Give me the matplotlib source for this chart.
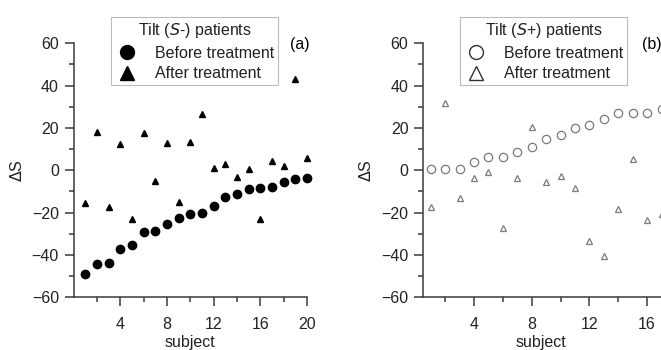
import numpy as np
import matplotlib
matplotlib.use('Agg')
import matplotlib.pyplot as plt
from matplotlib.lines import Line2D
from matplotlib.ticker import MultipleLocator, FixedLocator

plt.rcParams['font.family'] = ['Liberation Sans', 'DejaVu Sans']
plt.rcParams['font.size'] = 11

# panel (a): Tilt (S-) patients
subj_a = np.arange(1, 21)
before_a = [-48.8, -44.4, -43.6, -37.2, -35.3, -29.1, -28.5, -25.5, -22.7, -20.6,
            -20.0, -17.0, -12.5, -11.4, -9.0, -8.5, -7.9, -5.5, -4.1, -3.5]
after_a = [-15.6, 18.2, -17.5, 12.3, -22.8, 17.5, -4.9, 12.7, -14.8, 13.2,
           26.6, 1.2, 2.8, -3.3, 0.6, -23.1, 4.5, 1.9, 43.1, 6.0]

# panel (b): Tilt (S+) patients (only subjects visible in the picture)
subj_b = np.arange(1, 18)
before_b = [0.6, 0.6, 0.6, 4.1, 6.4, 6.4, 8.6, 11.2, 14.9, 16.7,
            20.1, 21.4, 24.4, 26.9, 27.2, 27.2, 28.8]
after_b = [-17.5, 31.6, -13.2, -3.5, -1.0, -27.4, -3.5, 20.6, -5.7, -2.5,
           -8.5, -33.4, -40.3, -18.4, 5.3, -23.5, -20.8]

W, H = 661, 350
fig = plt.figure(figsize=(W / 100, H / 100), dpi=100)
spine_c = '#3a3a3a'


def style(ax, xlo, majors, label_x):
    ax.set_xlim(xlo, 20)
    ax.set_ylim(-60, 60)
    for s in ['top', 'right']:
        ax.spines[s].set_visible(False)
    for s in ['left', 'bottom']:
        ax.spines[s].set_color(spine_c)
        ax.spines[s].set_linewidth(1.1)
    ax.xaxis.set_major_locator(FixedLocator(majors))
    ax.xaxis.set_minor_locator(FixedLocator([2, 6, 10, 14, 18]))
    ax.yaxis.set_major_locator(MultipleLocator(20))
    ax.yaxis.set_minor_locator(MultipleLocator(10))
    ax.tick_params(which='major', length=6.5, width=1.1, color=spine_c,
                   labelcolor='#222222', labelsize=11.5, pad=4)
    ax.tick_params(axis='x', which='major', pad=8)
    ax.tick_params(which='minor', length=3.5, width=1.1, color=spine_c)
    ax.set_xlabel('subject', fontsize=11.5, color='#222222', va='center')
    ax.xaxis.set_label_coords(label_x, -0.176)
    ax.set_ylabel(r'$\Delta$S', fontsize=11.5, color='#222222', labelpad=5)


ax1 = fig.add_axes([73.5 / W, 52.7 / H, (307 - 73.5) / W, 254 / H])
style(ax1, 0, [4, 8, 12, 16, 20], 0.5)
ax1.plot(subj_a, before_a, 'o', color='black', markersize=6, clip_on=False)
ax1.plot(subj_a, after_a, '^', color='black', markersize=5, clip_on=False)

wb = 19.54 * 14.42
ax2 = fig.add_axes([423 / W, 52.7 / H, wb / W, 254 / H])
style(ax2, 0.46, [4, 8, 12, 16], (541 - 423) / wb)
ax2.plot(subj_b, before_b, 'o', mfc='white', mec='#7a7a7a', mew=0.9,
         markersize=6, clip_on=False)
ax2.plot(subj_b, after_b, '^', mfc='white', mec='#7a7a7a', mew=0.9,
         markersize=5, clip_on=False)


def legend(ax, title, filled, x0):
    if filled:
        kw = dict(color='black', linestyle='none')
    else:
        kw = dict(mfc='white', mec='#333333', mew=1.0, linestyle='none')
    hs = [Line2D([], [], marker='o', markersize=10, **kw),
          Line2D([], [], marker='^', markersize=10, **kw)]
    leg = ax.legend(hs, ['Before treatment', 'After treatment'], title=title,
                    loc='upper left', bbox_to_anchor=(x0 / W, 1 - 17 / H),
                    bbox_transform=fig.transFigure, fontsize=11.5,
                    title_fontsize=11.5, frameon=True, fancybox=False,
                    borderpad=0.25, labelspacing=0.35, handletextpad=1.0,
                    handlelength=1.5, borderaxespad=0, edgecolor='#aaaaaa')
    leg.get_frame().set_linewidth(0.8)
    leg.get_title().set_color('#222222')
    for t in leg.get_texts():
        t.set_color('#222222')
    return leg


legend(ax1, r'Tilt ($\mathit{S}$-) patients', True, 111)
legend(ax2, r'Tilt ($\mathit{S}$+) patients', False, 460)
fig.text(300 / W, 1 - 45 / H, '(a)', fontsize=11.5, ha='center', va='center')
fig.text(652 / W, 1 - 45 / H, '(b)', fontsize=11.5, ha='center', va='center')

fig.savefig('out.png', dpi=100)
